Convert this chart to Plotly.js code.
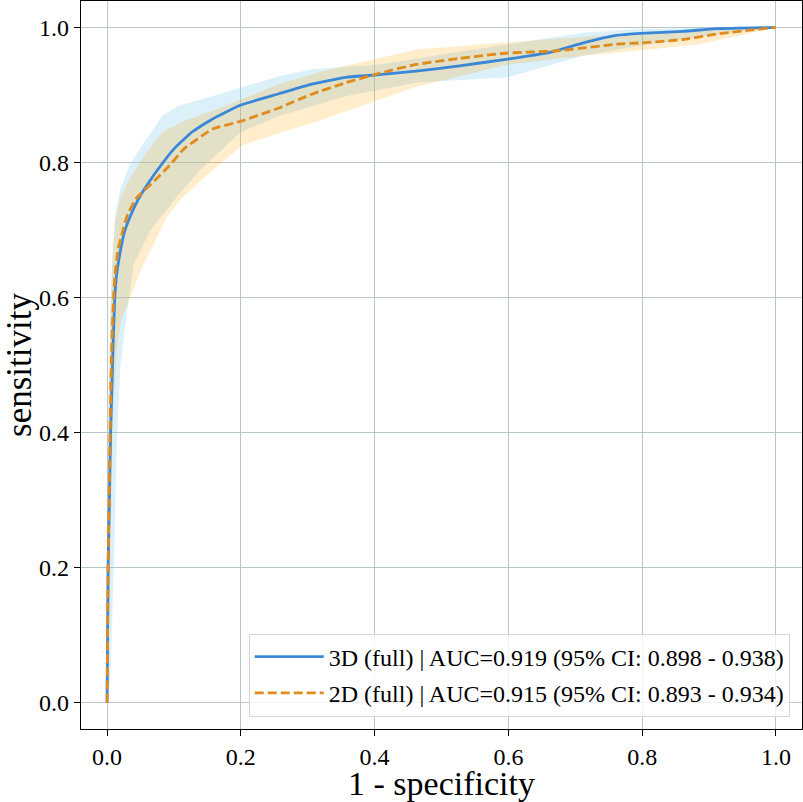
<!DOCTYPE html>
<html>
<head>
<meta charset="utf-8">
<script src="https://cdn.plot.ly/plotly-3.0.1.min.js"></script>
<style>
  html, body { margin: 0; padding: 0; background: #fff; }
  #chart { width: 803px; height: 802px; }
</style>
</head>
<body>
<div id="chart"></div>
<script>
// ROC curves: x = 1 - specificity, y = sensitivity
const fpr3d = [0, 0.0015, 0.0034, 0.0054, 0.0088, 0.0115, 0.014, 0.0205, 0.026, 0.035, 0.047, 0.062, 0.080, 0.100, 0.127, 0.157, 0.200, 0.258, 0.306, 0.357, 0.407, 0.462, 0.527, 0.599, 0.662, 0.712, 0.761, 0.798, 0.861, 0.911, 1.0];
const tpr3d = [0, 0.2, 0.3, 0.405, 0.524, 0.6, 0.632, 0.672, 0.697, 0.721, 0.746, 0.77, 0.795, 0.82, 0.845, 0.864, 0.885, 0.902, 0.916, 0.926, 0.93, 0.935, 0.943, 0.953, 0.963, 0.977, 0.988, 0.991, 0.994, 0.998, 1.0];

const fpr2d = [0, 0.0015, 0.003, 0.0045, 0.0068, 0.0098, 0.0117, 0.0166, 0.023, 0.030, 0.043, 0.068, 0.093, 0.115, 0.157, 0.200, 0.258, 0.306, 0.357, 0.407, 0.462, 0.527, 0.599, 0.671, 0.761, 0.798, 0.861, 0.911, 1.0];
const tpr2d = [0, 0.2, 0.3, 0.405, 0.524, 0.6, 0.632, 0.672, 0.697, 0.721, 0.746, 0.77, 0.795, 0.82, 0.849, 0.861, 0.881, 0.901, 0.918, 0.932, 0.945, 0.954, 0.962, 0.965, 0.975, 0.977, 0.982, 0.99, 1.0];

// 95% CI bands (upper / lower edges)
const ciUp3dX = [0, 0.002, 0.005, 0.008, 0.012, 0.0195, 0.033, 0.058, 0.083, 0.107, 0.157, 0.200, 0.258, 0.306, 0.407, 0.488, 0.599, 0.712, 0.787, 0.88, 1.0];
const ciUp3dY = [0, 0.45, 0.58, 0.66, 0.72, 0.76, 0.795, 0.834, 0.869, 0.884, 0.898, 0.911, 0.928, 0.938, 0.945, 0.958, 0.975, 0.992, 0.997, 0.999, 1.0];
const ciLo3dX = [0, 0.005, 0.01, 0.015, 0.02, 0.03, 0.04, 0.065, 0.105, 0.14, 0.200, 0.258, 0.357, 0.462, 0.599, 0.712, 0.78, 0.88, 1.0];
const ciLo3dY = [0, 0.04, 0.2, 0.4, 0.5, 0.58, 0.65, 0.70, 0.75, 0.79, 0.845, 0.869, 0.898, 0.918, 0.926, 0.958, 0.97, 0.985, 1.0];

const ciUp2dX = [0, 0.002, 0.005, 0.008, 0.012, 0.0195, 0.033, 0.059, 0.083, 0.117, 0.157, 0.200, 0.258, 0.322, 0.407, 0.462, 0.599, 0.712, 0.81, 0.908, 1.0];
const ciUp2dY = [0, 0.42, 0.58, 0.66, 0.715, 0.745, 0.775, 0.815, 0.845, 0.862, 0.876, 0.893, 0.916, 0.935, 0.955, 0.967, 0.978, 0.985, 0.992, 0.999, 1.0];
const ciLo2dX = [0, 0.004, 0.008, 0.014, 0.022, 0.035, 0.05, 0.07, 0.09, 0.11, 0.159, 0.202, 0.259, 0.309, 0.359, 0.409, 0.462, 0.599, 0.712, 0.81, 0.886, 1.0];
const ciLo2dY = [0, 0.15, 0.4, 0.52, 0.57, 0.6, 0.64, 0.68, 0.72, 0.745, 0.79, 0.825, 0.844, 0.859, 0.876, 0.893, 0.912, 0.945, 0.958, 0.967, 0.975, 1.0];

const labels = [
    '3D (full) | AUC=0.919 (95% CI: 0.898 - 0.938)',
    '2D (full) | AUC=0.915 (95% CI: 0.893 - 0.934)'
];
const tickVals = [0, 0.2, 0.4, 0.6, 0.8, 1.0];

// closed polygon: upper edge forward, lower edge backward
function band(ux, uy, lx, ly, color) {
    return {
        x: ux.concat(lx.slice().reverse()),
        y: uy.concat(ly.slice().reverse()),
        type: 'scatter', mode: 'lines', fill: 'toself',
        fillcolor: color, line: {width: 0}, hoverinfo: 'skip', showlegend: false
    };
}

const traces = [
    band(ciUp3dX, ciUp3dY, ciLo3dX, ciLo3dY, 'rgba(135,206,235,0.3)'),
    band(ciUp2dX, ciUp2dY, ciLo2dX, ciLo2dY, 'rgba(255,165,0,0.2)'),
    { x: fpr3d, y: tpr3d, type: 'scatter', mode: 'lines', name: labels[0], legendgroup: 'a',
      line: {color: '#3a87d8', width: 2.8, shape: 'spline', smoothing: 0.4} },
    { x: fpr2d, y: tpr2d, type: 'scatter', mode: 'lines', name: labels[1], legendgroup: 'b',
      line: {color: '#e08b1c', width: 2.8, dash: '9px,4px', shape: 'spline', smoothing: 0.4} }
];

const axisBase = {
    range: [-0.039, 1.039], tickvals: tickVals, tickformat: '.1f',
    showgrid: true, gridcolor: '#b9c6c8', gridwidth: 1, zeroline: false,
    showline: true, mirror: true, linecolor: '#000', linewidth: 1.2,
    ticks: 'outside', ticklen: 6, tickcolor: '#000', tickwidth: 1,
    tickfont: {family: 'Liberation Serif', size: 24, color: '#000'}
};

const layout = {
    width: 803, height: 802,
    margin: {l: 81, r: 1, t: 1, b: 73},
    paper_bgcolor: '#fff', plot_bgcolor: '#fff',
    font: {family: 'Liberation Serif', color: '#000'},
    xaxis: { ...axisBase, title: {text: '1 - specificity', font: {size: 34}, standoff: 15} },
    yaxis: { ...axisBase, title: {text: 'sensitivity', font: {size: 35}, standoff: 2} },
    showlegend: true,
    legend: {
        x: 0.983, y: 0.017, xanchor: 'right', yanchor: 'bottom',
        bgcolor: 'rgba(255,255,255,0.8)', bordercolor: '#d6d6d6', borderwidth: 1,
        font: {family: 'Liberation Serif', size: 24, color: '#000'},
        traceorder: 'grouped', tracegroupgap: 2, itemwidth: 69
    }
};

Plotly.newPlot('chart', traces, layout, {displayModeBar: false, staticPlot: true});
</script>
</body>
</html>
